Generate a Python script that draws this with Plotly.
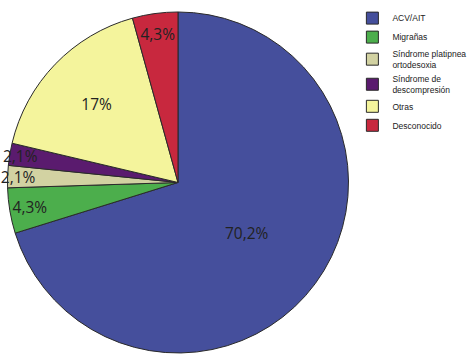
import plotly.graph_objects as go

labels = ["ACV/AIT", "Migrañas", "Síndrome platipnea<br>ortodesoxia", "Síndrome de<br>descompresión", "Otras", "Desconocido"]
values = [70.2, 4.3, 2.1, 2.1, 17.0, 4.3]
text_labels = ["70,2%", "4,3%", "2,1%", "2,1%", "17%", "4,3%"]
colors = ["#454f9c", "#4cae4c", "#d2d2a2", "#5a1b6e", "#f4f49c", "#c8283e"]

fig = go.Figure(go.Pie(
    labels=labels, values=values, text=text_labels,
    texttemplate="%{text}", textinfo="text",
    textposition="inside", insidetextorientation="horizontal",
    sort=False, direction="clockwise", rotation=0,
    marker=dict(colors=colors, line=dict(color="#2a2a2a", width=1)),
    textfont=dict(family="Open Sans", size=17, color="#222222"),
    domain=dict(x=[0.0148, 0.7378], y=[0.0222, 0.9668]),
    hoverinfo="label+text",
))
fig.update_layout(
    width=473, height=361, margin=dict(l=0, r=0, t=0, b=0, autoexpand=False),
    paper_bgcolor="white", plot_bgcolor="white",
    uniformtext=dict(minsize=15, mode="show"),
    legend=dict(x=0.745, y=0.99, xanchor="left", yanchor="top",
                font=dict(family="Liberation Sans", size=8.5, color="#222222"),
                tracegroupgap=0, itemwidth=30, traceorder="normal"),
)
fig.write_html("out.html", config={"displayModeBar": False},
               post_script="document.body.style.margin='0';document.body.style.overflow='hidden';")
